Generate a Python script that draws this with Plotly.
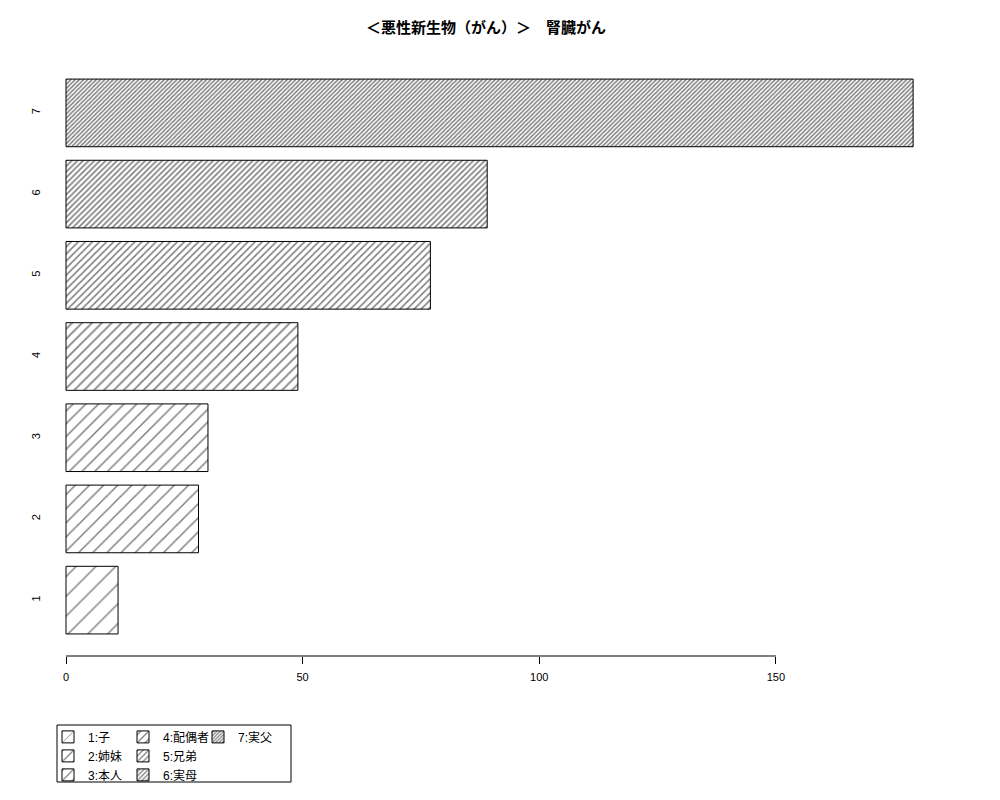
import plotly.graph_objects as go

# horizontal hatched bars, one trace per relation so each gets a legend entry

categories = ["1", "2", "3", "4", "5", "6", "7"]
labels = ["1:子", "2:姉妹", "3:本人", "4:配偶者", "5:兄弟", "6:実母", "7:実父"]
values = [11, 28, 30, 49, 77, 89, 179]
positions = [1, 2, 3, 4, 5, 6, 7]
hatch_size = [14, 10, 9, 7, 5, 4, 3]
hatch_solid = [0.1, 0.15, 0.17, 0.23, 0.32, 0.4, 0.5]
legend_of = ["legend", "legend", "legend", "legend2", "legend2", "legend2", "legend3"]
x_ticks = [0, 50, 100, 150]

FONT = "Liberation Sans, Noto Sans CJK JP, sans-serif"

fig = go.Figure()
for i in range(len(categories)):
    fig.add_trace(go.Bar(
        x=[values[i]],
        y=[positions[i]],
        orientation='h',
        width=0.833,
        name=labels[i],
        legend=legend_of[i],
        marker=dict(
            color='white',
            line=dict(color='black', width=1),
            pattern=dict(shape='/', size=hatch_size[i], solidity=hatch_solid[i],
                         fgcolor='black', bgcolor='white', fillmode='overlay'),
        ),
        hoverinfo='x+name',
    ))

legend_style = dict(
    orientation='v', xref='container', yref='container',
    xanchor='left', yanchor='top', bgcolor='rgba(0,0,0,0)', borderwidth=0,
    font=dict(family=FONT, size=12, color='black'),
    itemwidth=30, tracegroupgap=0, traceorder='normal',
)

# plot area: container x 42..939, y 50..648
fig.update_layout(
    width=1000, height=800,
    margin=dict(l=42, r=61, t=50, b=152, autoexpand=False),
    paper_bgcolor='white', plot_bgcolor='white',
    font=dict(family=FONT, size=11, color='black'),
    title=dict(text='<b>＜悪性新生物（がん）＞　腎臓がん</b>',
               x=0.478, xref='container', xanchor='center',
               y=0.975, yref='container', yanchor='middle',
               font=dict(family=FONT, size=15, color='black')),
    barmode='overlay',
    xaxis=dict(range=[-3.38, 186.16], tickvals=x_ticks, ticks='outside', ticklen=7,
               tickcolor='black', showgrid=False, zeroline=False, showline=False,
               ticklabelstandoff=4, tickfont=dict(size=11, color='black')),
    yaxis=dict(range=[0.312, 7.676], tickvals=positions, ticktext=categories,
               tickangle=-90, ticks='', showgrid=False, zeroline=False, showline=False,
               ticklabelstandoff=7, tickfont=dict(size=11, color='black')),
    legend=dict(x=0.040, y=0.107, **legend_style),
    legend2=dict(x=0.115, y=0.107, **legend_style),
    legend3=dict(x=0.190, y=0.107, **legend_style),
    shapes=[
        dict(type='line', xref='x', yref='paper', x0=0, x1=150, y0=0, y1=0,
             line=dict(color='black', width=1)),
        dict(type='rect', xref='paper', yref='paper',
             x0=(49 - 42) / 897, x1=(283 - 42) / 897,
             y0=(648 - 774) / 598, y1=(648 - 717) / 598,
             line=dict(color='black', width=1)),
    ],
)

fig.write_html("out.html")
